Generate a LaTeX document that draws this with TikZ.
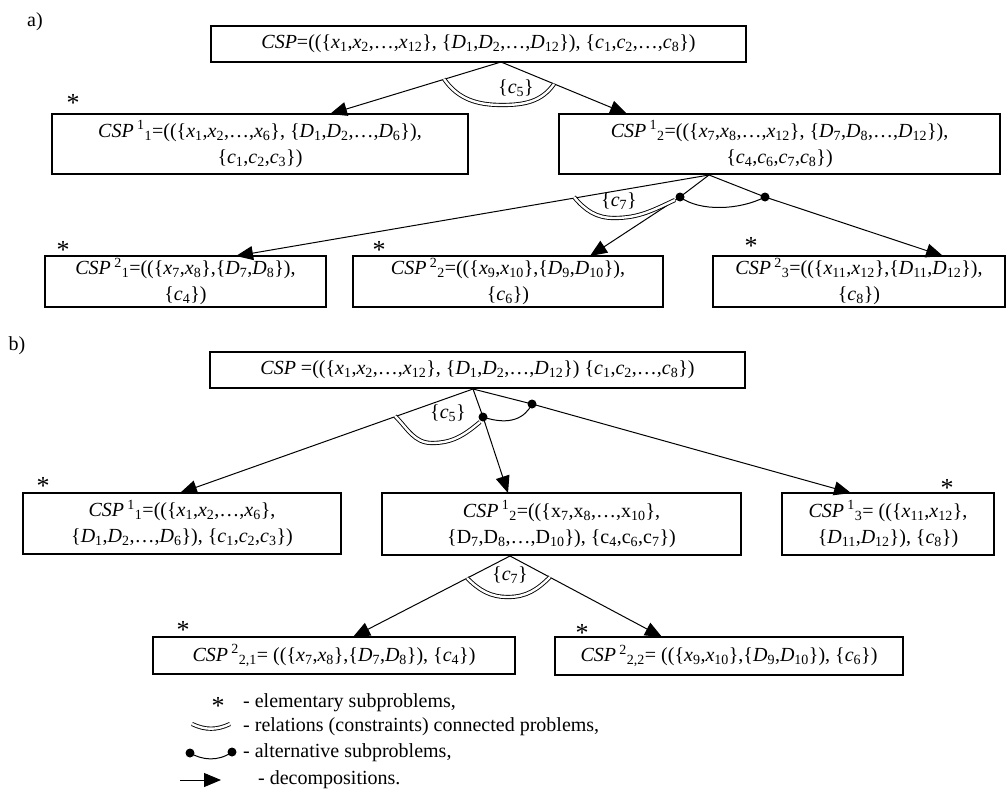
\documentclass[tikz,border=0pt]{standalone}
\usepackage{fontspec}
\setmainfont{Liberation Serif}
\usetikzlibrary{arrows.meta}
\newcommand{\setOf}[1]{\{#1\}}
\newcommand{\xv}[1]{\textit{x}\textsubscript{#1}}
\newcommand{\dv}[1]{\textit{D}\textsubscript{#1}}
\newcommand{\cv}[1]{\textit{c}\textsubscript{#1}}
\newcommand{\cspName}[2]{\textit{CSP}\,\textsuperscript{#1}\textsubscript{#2}}
\newcommand{\starMark}[2]{%%
  \node[starStyle] (#1) at (#2) {\raisebox{-0.45em}[0.22em][0.2em]{*}};
}
\begin{document}
\begin{tikzpicture}[x=1pt,y=-1pt,%%
  boxStyle/.style={draw,line width=1.2pt,align=center,inner sep=0pt,font=\fontsize{20}{26}\selectfont},%%
  arrowStyle/.style={line width=1pt,-{Triangle[length=17pt,width=14pt]}},%%
  lineStyle/.style={line width=1pt},%%
  relStyle/.style={double,double distance=2.4pt,line width=0.9pt},%%
  dotStyle/.style={circle,fill=black,inner sep=0pt,minimum size=9pt},%%
  starStyle/.style={inner sep=0pt,font=\fontsize{26}{26}\selectfont},%%
  labelStyle/.style={inner sep=0pt,font=\fontsize{20}{22}\selectfont},%%
  legendStyle/.style={inner sep=0pt,anchor=west,font=\fontsize{20}{22}\selectfont}
]
\useasboundingbox (0,0) rectangle (1008,789);
%%
%% a) Decomposition in two steps.
\node[labelStyle] (labelA) at (35,22) {a)};
\node[boxStyle,minimum width=535pt,minimum height=36pt] (cspA) at (478.5,44)
  {\textit{CSP}=((\setOf{\xv1,\xv2,\ldots,\xv{12}}, \setOf{\dv1,\dv2,\ldots,\dv{12}}), \setOf{\cv1,\cv2,\ldots,\cv8})};
\node[boxStyle,minimum width=416pt,minimum height=60pt] (cspAa) at (260,144)
  {\cspName11=((\setOf{\xv1,\xv2,\ldots,\xv6}, \setOf{\dv1,\dv2,\ldots,\dv6}),\\ \setOf{\cv1,\cv2,\cv3})};
\node[boxStyle,minimum width=441pt,minimum height=60pt] (cspAb) at (779.5,144)
  {\cspName12=((\setOf{\xv7,\xv8,\ldots,\xv{12}}, \setOf{\dv7,\dv8,\ldots,\dv{12}}),\\ \setOf{\cv4,\cv6,\cv7,\cv8})};
\node[boxStyle,minimum width=281pt,minimum height=51pt] (cspAba) at (185.5,281.5)
  {\cspName21=((\setOf{\xv7,\xv8},\setOf{\dv7,\dv8}),\\ \setOf{\cv4})};
\node[boxStyle,minimum width=310pt,minimum height=51pt] (cspAbb) at (508,281.5)
  {\cspName22=((\setOf{\xv9,\xv{10}},\setOf{\dv9,\dv{10}}),\\ \setOf{\cv6})};
\node[boxStyle,minimum width=292pt,minimum height=51pt] (cspAbc) at (859,281.5)
  {\cspName23=((\setOf{\xv{11},\xv{12}},\setOf{\dv{11},\dv{12}}),\\ \setOf{\cv8})};
\starMark{starAa}{73,100}
\starMark{starAba}{63,247}
\starMark{starAbb}{379,247}
\starMark{starAbc}{751,243}
%% Junctions and arrow ends.
\coordinate (jA) at (501,62);
\coordinate (tipAa) at (330,114);
\coordinate (tipAb) at (627,114);
\coordinate (jAb) at (709,175);
\coordinate (tipAba) at (236,256);
\coordinate (tipAbb) at (590,256);
\coordinate (tipAbc) at (943,256);
\node[dotStyle] (dotAa) at (680,197) {};
\node[dotStyle] (dotAb) at (765,197) {};
\draw[arrowStyle] (jA) -- (tipAa);
\draw[arrowStyle] (jA) -- (tipAb);
\draw[relStyle] (444,79) to[out=-55,in=180] (502,105) to[out=0,in=-125] (554,84);
\node[labelStyle] (relAlabel) at (516,88) {\setOf{\cv5}};
\draw[arrowStyle] (jAb) -- (tipAba);
\draw[lineStyle] (jAb) -- (dotAa.center);
\draw[lineStyle] (jAb) -- (dotAb.center);
\draw[arrowStyle] (dotAa.center) -- (tipAbb);
\draw[arrowStyle] (dotAb.center) -- (tipAbc);
\draw[lineStyle] (dotAa.center) .. controls (700,212) and (740,210) .. (dotAb.center);
\draw[relStyle] (574,197) to[out=-50,in=180] (614,218) to[out=0,in=-155] (675,200);
\node[labelStyle] (relAblabel) at (619,201) {\setOf{\cv7}};
%%
%% b) Decomposition with an alternative.
\node[labelStyle] (labelB) at (17,346) {b)};
\node[boxStyle,minimum width=535pt,minimum height=36pt] (cspB) at (477.5,370)
  {\textit{CSP} =((\setOf{\xv1,\xv2,\ldots,\xv{12}}, \setOf{\dv1,\dv2,\ldots,\dv{12}}) \setOf{\cv1,\cv2,\ldots,\cv8})};
\node[boxStyle,minimum width=318pt,minimum height=61pt] (cspBa) at (182,523.5)
  {\cspName11=((\setOf{\xv1,\xv2,\ldots,\xv6},\\ \setOf{\dv1,\dv2,\ldots,\dv6}), \setOf{\cv1,\cv2,\cv3})};
\node[boxStyle,minimum width=359pt,minimum height=62pt] (cspBb) at (561.5,524)
  {\cspName12=((\{x\textsubscript7,x\textsubscript8,\ldots,x\textsubscript{10}\},\\ \{D\textsubscript7,D\textsubscript8,\ldots,D\textsubscript{10}\}), \{c\textsubscript4,c\textsubscript6,c\textsubscript7\})};
\node[boxStyle,minimum width=212pt,minimum height=62pt] (cspBc) at (888,524)
  {\cspName13= ((\setOf{\xv{11},\xv{12}},\\ \setOf{\dv{11},\dv{12}}), \setOf{\cv8})};
\node[boxStyle,minimum width=362pt,minimum height=37pt] (cspBba) at (334,655.5)
  {\cspName2{2,1}= ((\setOf{\xv7,\xv8},\setOf{\dv7,\dv8}), \setOf{\cv4})};
\node[boxStyle,minimum width=348pt,minimum height=38pt] (cspBbb) at (729,656)
  {\cspName2{2,2}= ((\setOf{\xv9,\xv{10}},\setOf{\dv9,\dv{10}}), \setOf{\cv6})};
\starMark{starBa}{43,483}
\starMark{starBc}{947,485}
\starMark{starBba}{183,627}
\starMark{starBbb}{582,630}
%% Junctions and arrow ends.
\coordinate (jB) at (473,389);
\coordinate (tipBa) at (180,493);
\coordinate (tipBb) at (508,493);
\coordinate (tipBc) at (851,493);
\coordinate (jBb) at (510,556);
\coordinate (tipBba) at (353,637);
\coordinate (tipBbb) at (662,637);
\node[dotStyle] (dotBa) at (483,417) {};
\node[dotStyle] (dotBb) at (532,404) {};
\draw[arrowStyle] (jB) -- (tipBa);
\draw[lineStyle] (jB) -- (dotBa.center);
\draw[lineStyle] (jB) -- (dotBb.center);
\draw[arrowStyle] (dotBa.center) -- (tipBb);
\draw[arrowStyle] (dotBb.center) -- (tipBc);
\draw[lineStyle] (dotBa.center) .. controls (510,426) and (525,418) .. (dotBb.center);
\draw[relStyle] (395,416) to[out=-45,in=180] (432,443) to[out=0,in=-140] (480,422);
\node[labelStyle] (relBlabel) at (448,413) {\setOf{\cv5}};
\draw[arrowStyle] (jBb) -- (tipBba);
\draw[arrowStyle] (jBb) -- (tipBbb);
\draw[relStyle] (467,578) to[out=-45,in=180] (508,597) to[out=0,in=-135] (550,577);
\node[labelStyle] (relBblabel) at (510,575) {\setOf{\cv7}};
%%
%% Legend.
\starMark{legStar}{218,703}
\node[legendStyle] (legStarText) at (243,703) {- elementary subproblems,};
\draw[relStyle] (192,724) to[out=-25,in=205] (230,724);
\node[legendStyle] (legRelText) at (243,727) {- relations (constraints) connected problems,};
\node[dotStyle] (legDotA) at (190,753) {};
\node[dotStyle] (legDotB) at (232,752) {};
\draw[lineStyle] (legDotA.center) .. controls (202,760) and (218,762) .. (legDotB.center);
\node[legendStyle] (legAltText) at (243,753) {- alternative subproblems,};
\coordinate (legArrowStart) at (180,780);
\coordinate (legArrowEnd) at (221,780);
\draw[arrowStyle] (legArrowStart) -- (legArrowEnd);
\node[legendStyle] (legDecText) at (258,780) {- decompositions.};
\end{tikzpicture}
\end{document}
